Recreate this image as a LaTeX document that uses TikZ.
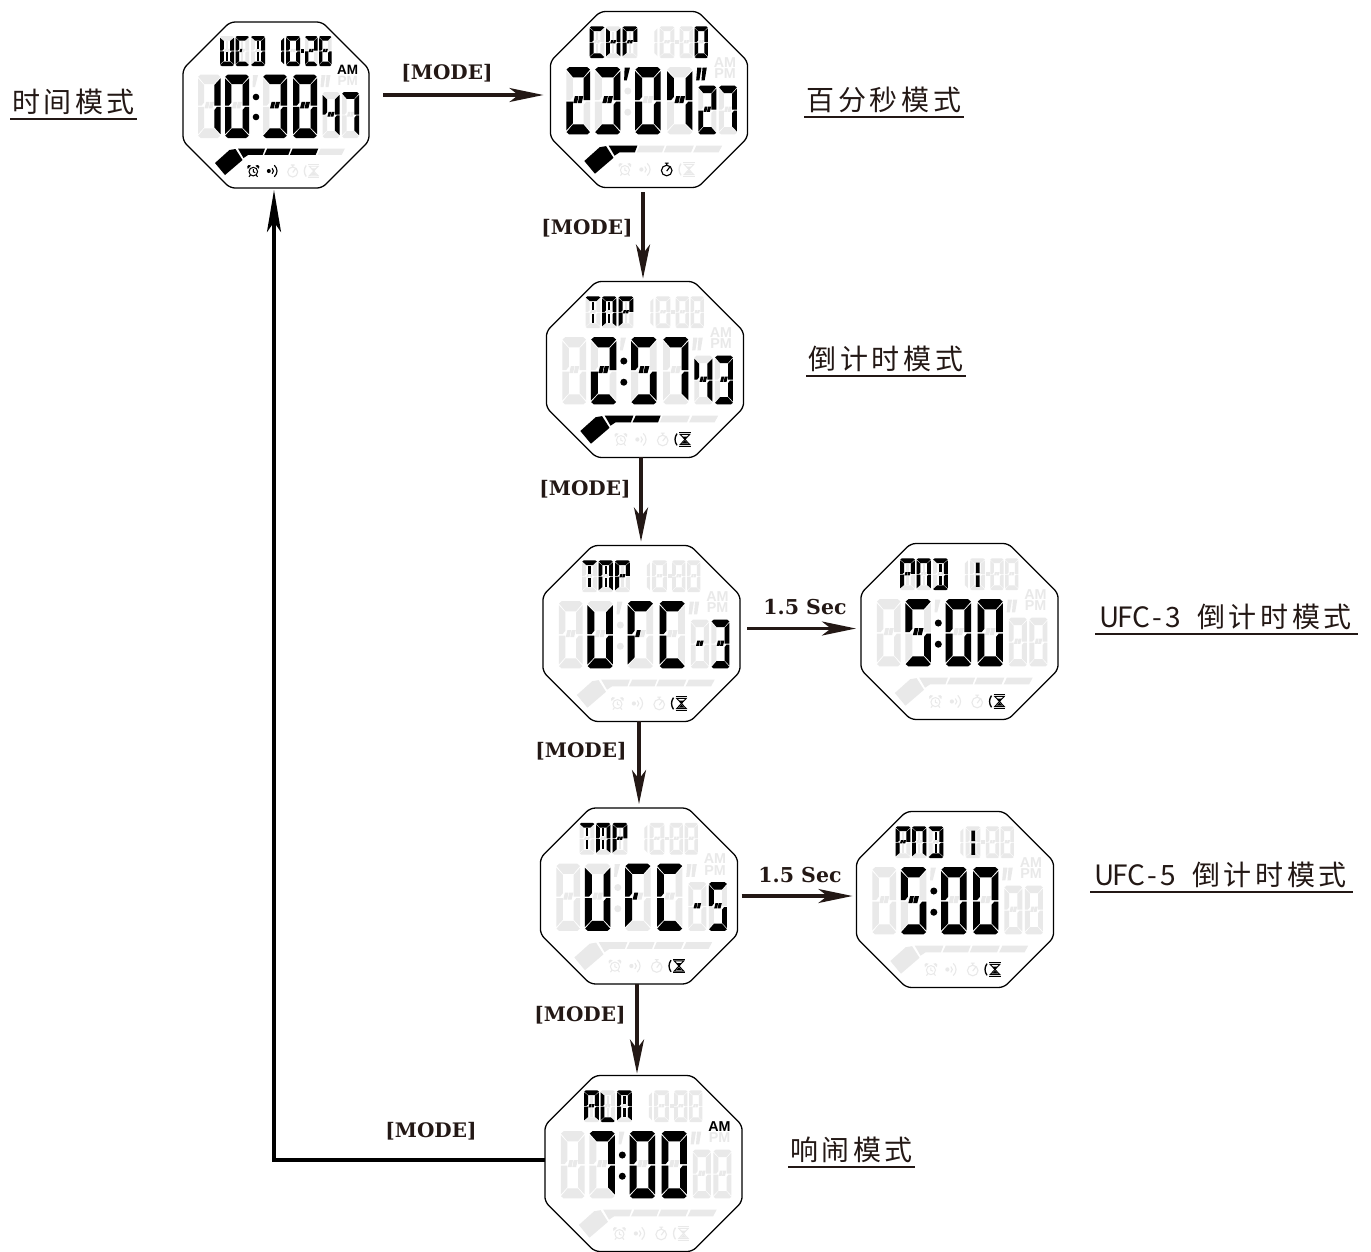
\documentclass[tikz,border=0pt]{standalone}
\usepackage{fontspec}
\usetikzlibrary{arrows.meta,calc}
\newfontfamily\cjk[LetterSpace=13]{Noto Sans CJK SC}
\newfontfamily\cjklat{Noto Sans CJK SC}
\newfontfamily\slab[Scale=1]{DejaVu Serif}
\newfontfamily\lcdfont{Liberation Sans}
\definecolor{gh}{HTML}{E9E9E9}
\definecolor{ink}{HTML}{231815}
% normalised segment outlines
\def\sga{(.12,0)--(.88,0)--(.99,.035)--(.72,.15)--(.28,.15)--(.01,.035)--cycle}
\def\sgd{(.12,1)--(.88,1)--(.99,.965)--(.72,.85)--(.28,.85)--(.01,.965)--cycle}
\def\sgf{(0,.06)--(.27,.165)--(.27,.44)--(.16,.49)--(0,.49)--cycle}
\def\sgb{(1,.06)--(.73,.165)--(.73,.49)--(1,.49)--cycle}
\def\sge{(0,.51)--(.27,.51)--(.27,.835)--(0,.94)--cycle}
\def\sgc{(1,.51)--(.84,.51)--(.73,.56)--(.73,.835)--(1,.94)--cycle}
\def\sgg{(.29,.535)--(.36,.43)--(.51,.43)--(.45,.535)--cycle}
\def\sgh{(.48,.535)--(.54,.43)--(.71,.43)--(.64,.535)--cycle}
\def\sgi{(.42,.17)--(.58,.17)--(.58,.42)--(.42,.42)--cycle}
\def\sgj{(.42,.54)--(.58,.54)--(.58,.83)--(.42,.83)--cycle}
\newcommand\chr[6]{\begin{scope}[shift={(#1,#3)},xscale={#2-(#1)},yscale={#4-(#3)}]
  \edef\seglist{#5}
  \foreach \s in \seglist {\expandafter\let\expandafter\curseg\csname sg\s\endcsname \fill[#6] \curseg;}
  \end{scope}}
% positions
\newcommand\Da[2]{\chr{-78}{-55.5}{-30.5}{33}{#1}{#2}}
\newcommand\Db[2]{\chr{-51}{-27}{-30.5}{33}{#1}{#2}}
\newcommand\Dc[2]{\chr{-13}{11}{-30.5}{33}{#1}{#2}}
\newcommand\Dd[2]{\chr{17}{41}{-30.5}{33}{#1}{#2}}
\newcommand\Sa[2]{\chr{46.5}{63.5}{-13}{33}{#1}{#2}}
\newcommand\Sb[2]{\chr{66}{83}{-13}{33}{#1}{#2}}
\newcommand\Ta[2]{\chr{-56}{-42}{-69}{-39}{#1}{#2}}
\newcommand\Tb[2]{\chr{-40.5}{-27}{-69}{-39}{#1}{#2}}
\newcommand\Tc[2]{\chr{-25}{-11}{-69}{-39}{#1}{#2}}
\newcommand\Td[2]{\chr{-3}{8}{-69}{-39}{#1}{#2}}
\newcommand\Te[2]{\chr{10}{24}{-69}{-39}{#1}{#2}}
\newcommand\Tf[2]{\chr{29}{41.5}{-69}{-39}{#1}{#2}}
\newcommand\Tg[2]{\chr{43}{55.5}{-69}{-39}{#1}{#2}}
\def\allseg{a,b,c,d,e,f,g,h}
\def\allsegx{a,b,c,d,e,f,g,h,i,j}
\newcommand\Barr[1]{\fill[#1] (15.5,-65)--(19,-65)--(19,-55)--(15.5,-55)--cycle (15.5,-53)--(19,-53)--(19,-42)--(15.5,-42)--cycle;}
\newcommand\Colon[1]{\fill[#1] (-20,-8) circle (3.3) (-20,12) circle (3.3);}
\newcommand\Mk[1]{\fill[#1] (-23,-30)--(-18,-30)--(-21,-18)--(-23.5,-18)--cycle;}
\newcommand\Mm[1]{\fill[#1] (45.5,-30)--(49.5,-30)--(47.5,-18)--(44.5,-18)--cycle (50.5,-30)--(54.5,-30)--(52.5,-18)--(49.5,-18)--cycle;}
\newcommand\Dash[1]{\fill[#1] (24.7,-56)--(28.3,-56)--(28.3,-52.5)--(24.7,-52.5)--cycle;}
\newcommand\Am[1]{\node[lcd,text=#1] at (71.7,-35) {AM};}
\newcommand\Pm[1]{\node[lcd,text=#1] at (71.7,-24) {PM};}
\newcommand\Pa[1]{\fill[#1] (-61,58)--(-46.5,45)--(-40.5,44)--(-33.5,55)--(-51,70)--cycle;}
\newcommand\Pb[1]{\fill[#1] (-38,43.5)--(-11,43.5)--(-13.3,49.8)--(-27.7,49.8)--(-32.5,53)--cycle;}
\newcommand\Pc[1]{\fill[#1] (-8.7,43.5)--(14.7,43.5)--(12.3,49.8)--(-11.7,49.8)--cycle;}
\newcommand\Pd[1]{\fill[#1] (16.7,43.5)--(42.3,43.5)--(39.7,49.8)--(14,49.8)--cycle;}
\newcommand\Pe[1]{\fill[#1] (44.7,43.5)--(69,43.5)--(65.7,49.8)--(41.7,49.8)--cycle;}
\newcommand\IcA[1]{\begin{scope}[shift={(-22.7,66)}]
 \draw[#1,line width=1] (0,.6) circle (4.3) (0,-1.8)--(0,.8)--(2,1.6) (-2.8,4)--(-4.3,5.8) (2.8,4)--(4.3,5.8);
 \fill[#1] (-5.6,-2.2)--(-2.2,-5.4)--(-4.6,-6)--(-6,-4.6)--cycle (5.6,-2.2)--(2.2,-5.4)--(4.6,-6)--(6,-4.6)--cycle;
 \end{scope}}
\newcommand\IcB[1]{\begin{scope}[shift={(-2.7,66)}]
 \fill[#1] (-4.5,0) circle (2);
 \draw[#1,line width=1.1] (-1.2,-2.8) .. controls (.6,-1.2) and (.6,1.2) .. (-1.2,2.8);
 \draw[#1,line width=1.1] (1,-5.8) .. controls (4.6,-2.2) and (4.6,2.2) .. (1,5.8);
 \end{scope}}
\newcommand\IcC[1]{\begin{scope}[shift={(16.7,66)}]
 \draw[#1,line width=1.1] (0,1) circle (5) (-1.8,-6)--(1.8,-6) (0,-6)--(0,-4) (0,1.5)--(2.8,-2.2);
 \end{scope}}
\newcommand\IcD[1]{\begin{scope}[shift={(36.7,66)}]
 \draw[#1,line width=1.3] (-6.5,-5.5) .. controls (-9,-2) and (-9,2) .. (-6.5,5.5);
 \draw[#1,line width=1] (-4.5,-6.3)--(6.5,-6.3) (-4.5,6.3)--(6.5,6.3);
 \draw[#1,line width=.9] (-3.5,-4.8)--(1,0)--(-3.5,4.8)--(5.5,4.8)--(1,0)--(5.5,-4.8)--cycle;
 \fill[#1] (-1.5,-2.7)--(3.5,-2.7)--(1,0)--cycle (-2,4)--(4,4)--(1,1)--cycle;
 \end{scope}}
\newcommand\watch[5]{\begin{scope}[shift={(#2,#3)},scale=#4]
 \node[wbox] (#1) at (0,0) {};
 \draw[rounded corners=5pt,line width=1.3pt,fill=white] (-46,-83)--(46,-83)--(93,-36)--(93,36)--(46,83)--(-46,83)--(-93,36)--(-93,-36)--cycle;
 \Da{\allseg}{gh}\Db{\allseg}{gh}\Dc{\allseg}{gh}\Dd{\allseg}{gh}\Sa{\allseg}{gh}\Sb{\allseg}{gh}
 \Ta{\allsegx}{gh}\Tb{\allsegx}{gh}\Tc{\allsegx}{gh}\Td{b,c}{gh}\Te{\allseg}{gh}\Tf{\allseg}{gh}\Tg{\allseg}{gh}
 \Colon{gh}\Mk{gh}\Mm{gh}\Dash{gh}\Am{gh}\Pm{gh}\Pa{gh}\Pb{gh}\Pc{gh}\Pd{gh}\Pe{gh}
 \IcA{gh}\IcB{gh}\IcC{gh}\IcD{gh}
 #5
 \end{scope}}
\def\dZ{a,b,c,d,e,f}\def\dO{b,c}\def\dT{a,b,g,h,e,d}\def\dH{a,b,g,h,c,d}\def\dF{f,g,h,b,c}
\def\dV{a,f,g,h,c,d}\def\dS{a,f,g,h,e,c,d}\def\dN{a,b,c}
\tikzset{
 x=1pt,y=-1pt,
 wbox/.style={inner sep=0,outer sep=0,minimum width=186pt,minimum height=166pt,transform shape},
 lcd/.style={inner sep=0,font=\lcdfont\bfseries\fontsize{13.5}{13.5}\selectfont,transform shape},
 arr/.style={draw=ink,line width=3.2pt,-{Stealth[length=34pt,width=14pt,inset=9pt]}},
 rt/.style={draw=black,line width=4pt,-{Stealth[length=42pt,width=14pt,inset=10pt]}},
 kbd/.style={font=\slab\bfseries\fontsize{20}{20}\selectfont,text=ink,inner sep=0},
 sec/.style={font=\slab\bfseries\fontsize{20.5}{20}\selectfont,text=ink,inner sep=0},
 lab/.style={font=\cjk\fontsize{28}{30}\selectfont,text=ink,inner sep=0,outer sep=0,minimum height=34pt},
 ul/.style={draw=ink,line width=1.2pt},
}
\newcommand\lc[1]{\makebox[16pt]{\cjklat\fontsize{28}{30}\selectfont #1}}
\begin{document}
\begin{tikzpicture}
\useasboundingbox (0,0) rectangle (1371,1251);
\watch{w1}{276}{105}{1}{\Ta{f,e,b,c,d,j}{black}\Tb{a,f,e,d,g}{black}\Tc{a,d,b,c,i,j}{black}
 \Td{b,c}{black}\Te{\dZ}{black}\Dash{black}\Tf{\dT}{black}\Tg{\dS}{black}
 \Da{\dO}{black}\Db{\dZ}{black}\Colon{black}\Dc{\dH}{black}\Dd{\allseg}{black}\Sa{\dF}{black}\Sb{\dN}{black}
 \Am{black}\Pa{black}\Pb{black}\Pc{black}\Pd{black}\IcA{black}\IcB{black}}
\watch{w2}{649}{99.5}{1.06}{\Ta{a,f,e,d}{black}\Tb{f,e,b,c,g,h}{black}\Tc{a,f,b,g,h,e}{black}\Tg{\dZ}{black}
 \Da{\dT}{black}\Db{\dH}{black}\Mk{black}\Dc{\dZ}{black}\Dd{\dF}{black}\Mm{black}\Sa{\dT}{black}\Sb{\dN}{black}
 \Pa{black}\Pb{black}\IcC{black}}
\watch{w3}{645}{369.5}{1.06}{\Ta{a,i,j}{black}\Tb{a,f,e,b,c,i,j}{black}\Tc{a,f,b,g,h,e}{black}
 \Db{\dT}{black}\Colon{black}\Dc{\dV}{black}\Dd{\dN}{black}\Sa{\dF}{black}\Sb{\dH}{black}
 \Pa{black}\Pb{black}\Pc{black}\IcD{black}}
\watch{w4}{641.5}{633.5}{1.06}{\Ta{a,i,j}{black}\Tb{a,f,e,b,c,i,j}{black}\Tc{a,f,b,g,h,e}{black}
 \Db{f,e,b,c,d}{black}\Dc{a,f,g,e}{black}\Dd{a,f,e,d}{black}\Sa{g,h}{black}\Sb{\dH}{black}\IcD{black}}
\watch{w4b}{959.5}{631.5}{1.06}{\Ta{a,f,b,g,h,e}{black}\Tb{a,f,e,b,c}{black}\Tc{a,d,b,c,i,j}{black}\Barr{black}
 \Db{\dV}{black}\Colon{black}\Dc{\dZ}{black}\Dd{\dZ}{black}\IcD{black}}
\watch{w5}{639}{896}{1.06}{\Ta{a,i,j}{black}\Tb{a,f,e,b,c,i,j}{black}\Tc{a,f,b,g,h,e}{black}
 \Db{f,e,b,c,d}{black}\Dc{a,f,g,e}{black}\Dd{a,f,e,d}{black}\Sa{g,h}{black}\Sb{\dV}{black}\IcD{black}}
\watch{w5b}{955}{899.5}{1.06}{\Ta{a,f,b,g,h,e}{black}\Tb{a,f,e,b,c}{black}\Tc{a,d,b,c,i,j}{black}\Barr{black}
 \Db{\dV}{black}\Colon{black}\Dc{\dZ}{black}\Dd{\dZ}{black}\IcD{black}}
\watch{w6}{643.5}{1163.5}{1.06}{\Ta{a,f,b,g,h,e,c}{black}\Tb{f,e,d}{black}\Tc{a,f,e,b,c,i,j}{black}
 \Db{\dN}{black}\Colon{black}\Dc{\dZ}{black}\Dd{\dZ}{black}\Am{black}}
% connectors
\draw[arr] ($(w1.east)+(14,-10)$) -- ($(w2.west)+(-7,-4.5)$);
\draw[arr] ($(w2.south)+(-6,5)$) -- ($(w3.north)+(-2,-3)$);
\draw[arr] ($(w3.south)+(-4,0)$) -- ($(w4.north)+(-.5,-4)$);
\draw[arr] ($(w4.south)+(-2.5,0)$) -- ($(w5.north)+(0,-4)$);
\draw[arr] ($(w5.south)+(-2,0)$) -- ($(w6.north)+(-6.5,-2)$);
\draw[arr] ($(w4.east)+(7,-5)$) -- ($(w4b.west)+(-5,-3)$);
\draw[arr] ($(w5.east)+(4,0)$) -- ($(w5b.west)+(-4,-3.5)$);
\coordinate (rc) at (274,1160);
\draw[rt] ($(w6.west)+(0,-3.5)$) -- (rc) -- ($(w1.south)+(-2,2)$);
% labels
\node[kbd] (m1) at (447,73) {[MODE]};
\node[kbd] (m2) at (587,228) {[MODE]};
\node[kbd] (m3) at (585,489) {[MODE]};
\node[kbd] (m4) at (581,751) {[MODE]};
\node[kbd] (m5) at (580,1015) {[MODE]};
\node[kbd] (m6) at (431,1131) {[MODE]};
\node[sec] (s1) at (805,607) {1.5 Sec};
\node[sec] (s2) at (800,875) {1.5 Sec};
\node[lab,minimum width=127pt] (l1) at (73.5,102) {时间模式};
\node[lab,minimum width=160pt] (l2) at (884,100) {百分秒模式};
\node[lab,minimum width=160pt] (l3) at (886,359) {倒计时模式};
\node[lab,minimum width=263pt] (l4) at (1226.5,617) {\lc{U}\lc{F}\lc{C}\lc{-}\lc{3}\lc{ }倒计时模式};
\node[lab,minimum width=263pt] (l5) at (1221.5,875) {\lc{U}\lc{F}\lc{C}\lc{-}\lc{5}\lc{ }倒计时模式};
\node[lab,minimum width=127pt] (l6) at (851.5,1150) {响闹模式};
\foreach \n in {l1,l2,l3,l4,l5,l6}{\draw[ul] (\n.south west) -- (\n.south east);}
\end{tikzpicture}
\end{document}
